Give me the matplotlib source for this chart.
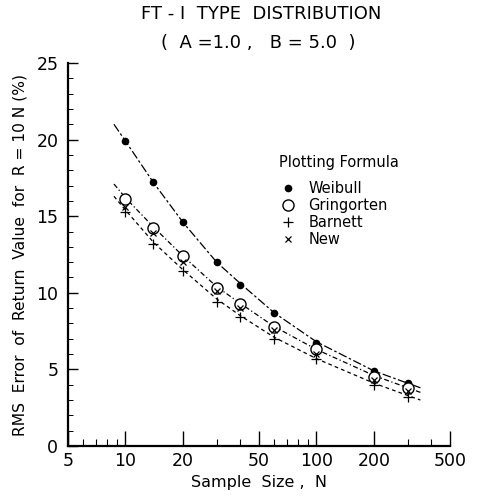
import matplotlib.pyplot as plt
from matplotlib.ticker import FixedLocator, NullFormatter

# Tamaño de muestra (N) y error RMS (%)
n_puntos = [10, 14, 20, 30, 40, 60, 100, 200, 300]
weibull = [19.9, 17.2, 14.6, 12.0, 10.5, 8.7, 6.7, 4.9, 4.1]
gringorten = [16.1, 14.2, 12.4, 10.3, 9.3, 7.8, 6.3, 4.5, 3.8]
barnett = [15.3, 13.2, 11.4, 9.4, 8.4, 7.0, 5.7, 4.0, 3.2]
new = [15.6, 13.9, 12.0, 10.1, 9.0, 7.6, 6.0, 4.3, 3.6]

# Curvas ajustadas (trazos)
n_curva = [8.7, 10, 14, 20, 30, 40, 60, 100, 200, 300, 350]
curva_weibull = [21.0, 19.9, 17.2, 14.6, 12.0, 10.6, 8.7, 6.8, 4.9, 4.1, 3.8]
curva_gringorten = [17.1, 16.2, 14.3, 12.4, 10.4, 9.3, 7.8, 6.3, 4.6, 3.8, 3.5]
curva_barnett = [16.3, 15.4, 13.3, 11.5, 9.6, 8.5, 7.1, 5.7, 4.1, 3.3, 3.0]

x_ticks = [5, 10, 20, 50, 100, 200, 500]
x_minor = [6, 7, 8, 9, 30, 40, 60, 70, 80, 90, 300, 400]

plt.rcParams['font.family'] = 'DejaVu Sans'

fig = plt.figure(figsize=(4.79, 4.96), dpi=100)
ax = fig.add_axes([68 / 479, 1 - 446 / 496, 382 / 479, 383 / 496])

ax.plot(n_curva, curva_weibull, color='black', lw=0.9, dashes=(7, 2, 2, 2))
ax.plot(n_curva, curva_gringorten, color='black', lw=0.9, dashes=(4, 2, 1, 2))
ax.plot(n_curva, curva_barnett, color='black', lw=0.9, dashes=(3, 2.5))

ax.plot(n_puntos, weibull, 'o', ms=4.5, color='black', label='Weibull', zorder=3)
ax.plot(n_puntos, gringorten, 'o', ms=8, mfc='white', mec='black', mew=1.0,
        label='Gringorten', zorder=3)
ax.plot(n_puntos, barnett, '+', ms=6.5, color='black', mew=0.9, label='Barnett', zorder=4)
ax.plot(n_puntos, new, 'x', ms=4.5, color='black', mew=0.9, label='New', zorder=4)

ax.set_xscale('log')
ax.set_xlim(5, 500)
ax.set_ylim(0, 25)
ax.xaxis.set_major_locator(FixedLocator(x_ticks))
ax.xaxis.set_minor_locator(FixedLocator(x_minor))
ax.set_xticklabels([str(t) for t in x_ticks])
ax.xaxis.set_minor_formatter(NullFormatter())
ax.set_yticks([0, 5, 10, 15, 20, 25])
ax.set_yticks(range(0, 26), minor=True)

for s in ['top', 'right']:
    ax.spines[s].set_visible(False)
for s in ['left', 'bottom']:
    ax.spines[s].set_linewidth(1.6)

ax.tick_params(axis='x', which='major', direction='in', length=11, width=1.0,
               labelsize=12.5, pad=4)
ax.tick_params(axis='x', which='minor', direction='in', length=5, width=0.8)
ax.tick_params(axis='y', which='major', direction='in', length=7, width=1.0,
               labelsize=12.5, pad=7)
ax.tick_params(axis='y', which='minor', direction='in', length=3.5, width=0.7)

ax.set_xlabel('Sample  Size ,  N', fontsize=11.5, labelpad=4)
ax.set_ylabel('RMS  Error  of  Return  Value  for  R = 10 N (%)', fontsize=11.2,
              labelpad=6)

fig.text(0.545, 0.972, 'FT - I  TYPE  DISTRIBUTION', ha='center', va='center',
         fontsize=13)
fig.text(0.54, 0.913, '(  A =1.0 ,   B = 5.0  )', ha='center', va='center',
         fontsize=13)

leg = ax.legend(loc='upper left', bbox_to_anchor=(272 / 479, 1 - 148 / 496),
                bbox_transform=fig.transFigure, frameon=False,
                title='Plotting Formula', fontsize=10.5, title_fontsize=10.5,
                handlelength=1.2, handletextpad=0.8, labelspacing=0.12,
                borderpad=0, alignment='left')
leg._legend_box.sep = 8

fig.savefig('out.png', dpi=100)
